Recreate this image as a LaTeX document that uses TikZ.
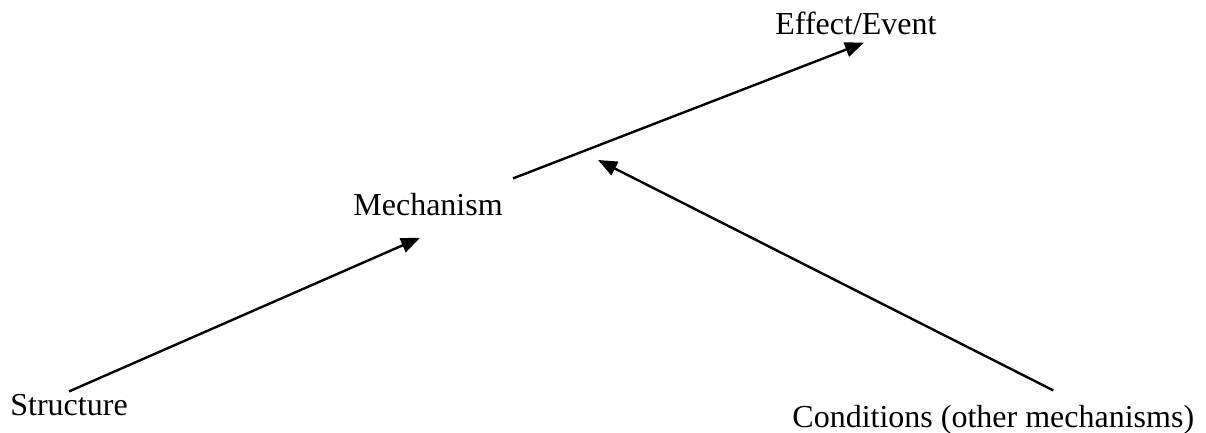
\documentclass[tikz,border=0pt]{standalone}
\usepackage{fontspec}
\setmainfont{Liberation Serif}
\usetikzlibrary{arrows.meta}
\begin{document}
\begin{tikzpicture}[x=0.5pt,y=-0.5pt,
    label/.style={inner sep=0pt,anchor=base west,font=\fontsize{16}{19}\selectfont},
    link/.style={line width=1.2pt,-{Triangle[length=9.5pt,width=7.5pt]}}]
    \useasboundingbox (0,0) rectangle (1206,433);
    % Texts
    \node[label] (structure) at (10,415) {Structure};
    \node[label] (mechanism) at (353,215) {Mechanism};
    \node[label] (effect) at (775,35) {Effect/Event};
    \node[label] (conditions) at (792,427) {Conditions (other mechanisms)};
    \coordinate (joint) at (598,160);

    % Arrows
    \draw[link] ([yshift=1pt]structure.north) -- ([xshift=-4pt,yshift=-11pt]mechanism.south);
    \draw[link] ([xshift=5pt,yshift=7pt]mechanism.north east) -- ([xshift=4pt,yshift=-3.5pt]effect.south);
    \draw[link] ([xshift=30pt,yshift=7pt]conditions.north) -- (joint);
\end{tikzpicture}
\end{document}
